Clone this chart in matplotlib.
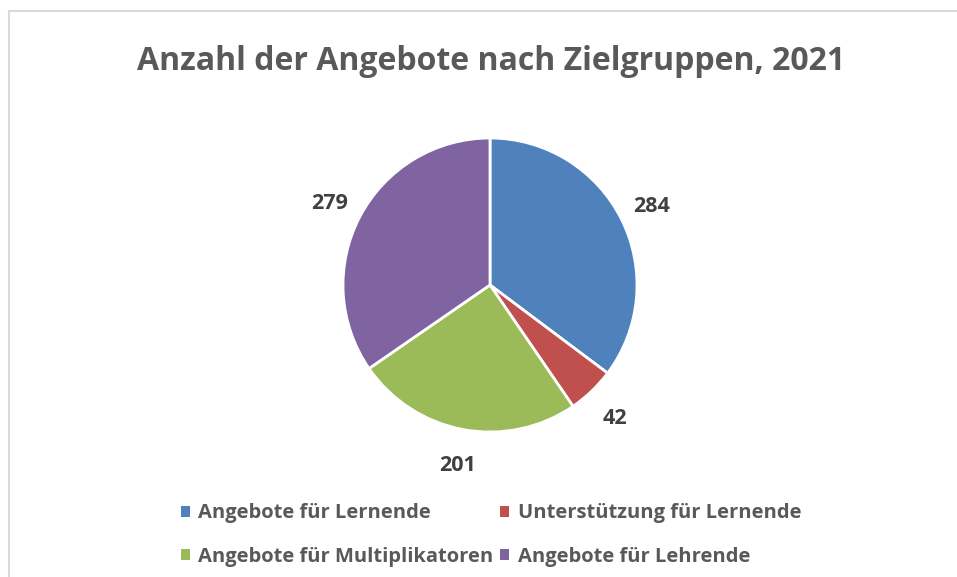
#!/usr/bin/env python3
"""Anzahl der Angebote nach Zielgruppen, 2021 - Kreisdiagramm."""

import matplotlib.pyplot as plt
from matplotlib.patches import Rectangle
from matplotlib.lines import Line2D

categories = [
    "Angebote für Lernende",
    "Unterstützung für Lernende",
    "Angebote für Multiplikatoren",
    "Angebote für Lehrende",
]
values = [284, 42, 201, 279]
colors = ["#4F81BD", "#C0504D", "#9BBB59", "#8064A2"]
title = "Anzahl der Angebote nach Zielgruppen, 2021"

W, H = 957, 577
DPI = 100

FONT = ["Open Sans", "DejaVu Sans"]
plt.rcParams["font.family"] = FONT

fig = plt.figure(figsize=(W / DPI, H / DPI), dpi=DPI)

# chart border (light grey, open to the right/bottom like the screenshot)
fig.add_artist(Line2D([9 / W, 9 / W], [0, 1 - 11 / H], color="#D9D9D9", lw=1.5))
fig.add_artist(Line2D([9 / W, 1], [1 - 11 / H, 1 - 11 / H], color="#D9D9D9", lw=1.5))

fig.text(491 / W, 1 - 70 / H, title, ha="center", va="baseline",
         fontsize=23, fontweight="bold", color="#595959")

# pie axes: centre (490, 285) px, radius 147 px
cx, cy, r = 490, 285, 147
ax = fig.add_axes([(cx - r) / W, 1 - (cy + r) / H, 2 * r / W, 2 * r / H])
wedges, texts = ax.pie(
    values,
    colors=colors,
    startangle=90,
    counterclock=False,
    labels=[str(v) for v in values],
    labeldistance=1.23,
    wedgeprops=dict(edgecolor="white", linewidth=2),
    textprops=dict(fontsize=15.5, fontweight="bold", color="#404040"),
)
for t in texts:
    t.set_ha("center")
    t.set_va("center_baseline")
ax.set_xlim(-1, 1)
ax.set_ylim(-1, 1)
ax.set_aspect("equal")
ax.axis("off")

# legend is filled row by row
order = [0, 2, 1, 3]
handles = [Rectangle((0, 0), 1, 1, facecolor=colors[i], edgecolor="none") for i in order]
fig.legend(
    handles, [categories[i] for i in order],
    loc="center left", bbox_to_anchor=(181 / W, 1 - 535 / H),
    ncol=2, frameon=False, labelcolor="#595959",
    handlelength=0.45, handleheight=0.45, handletextpad=0.4,
    columnspacing=0.35, labelspacing=1.15, borderpad=0, borderaxespad=0,
    prop=dict(weight="bold", size=14.5),
)

fig.savefig("out.png", dpi=DPI)
plt.close(fig)
